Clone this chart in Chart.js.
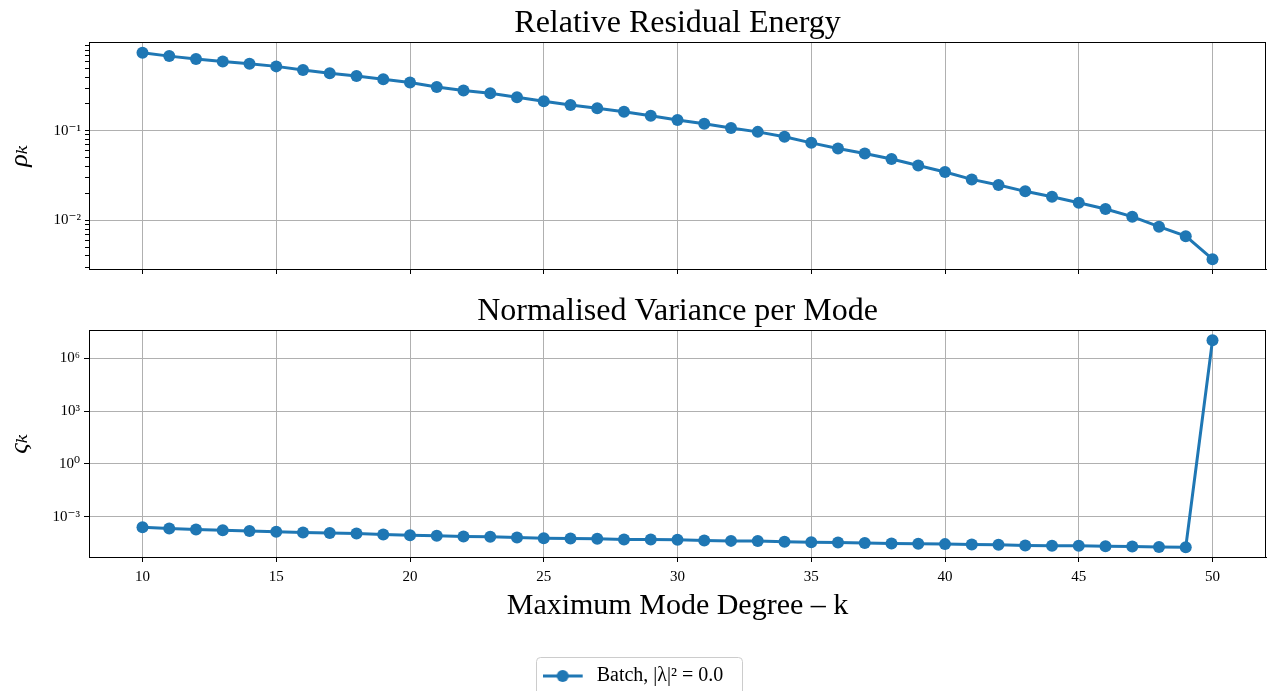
<!DOCTYPE html>
<html>
<head>
<meta charset="utf-8">
<script src="https://cdn.jsdelivr.net/npm/chart.js@4.4.0/dist/chart.umd.min.js"></script>
<style>
  html, body { margin: 0; padding: 0; background: #fff; overflow: hidden; }
  #top { position: absolute; left: 0; top: 0; width: 1282px; height: 290px; }
  #bottom { position: absolute; left: 0; top: 290px; width: 1282px; height: 401px; }
</style>
</head>
<body>
<div id="top"><canvas id="rhoChart"></canvas></div>
<div id="bottom"><canvas id="varChart"></canvas></div>
<script>
// maximum mode degree k
const kValues = [10, 11, 12, 13, 14, 15, 16, 17, 18, 19, 20, 21, 22, 23, 24, 25, 26, 27, 28, 29,
  30, 31, 32, 33, 34, 35, 36, 37, 38, 39, 40, 41, 42, 43, 44, 45, 46, 47, 48, 49, 50]

// relative residual energy rho_k
const rhoValues = [0.745, 0.685, 0.635, 0.598, 0.564, 0.526, 0.479, 0.44, 0.41, 0.377,
  0.347, 0.31, 0.282, 0.263, 0.238, 0.214, 0.195, 0.179, 0.164, 0.148,
  0.132, 0.12, 0.108, 0.0975, 0.0858, 0.0735, 0.0636, 0.056, 0.0484, 0.0411,
  0.0347, 0.0287, 0.0248, 0.0211, 0.0184, 0.0157, 0.0134, 0.011, 0.0085, 0.00666, 0.00368]

// normalised variance per mode varsigma_k
const varValues = [2.5e-4, 2.1e-4, 1.85e-4, 1.7e-4, 1.55e-4, 1.38e-4, 1.26e-4, 1.16e-4, 1.1e-4, 9.6e-5,
  8.9e-5, 8.1e-5, 7.4e-5, 7.1e-5, 6.5e-5, 6.0e-5, 5.7e-5, 5.5e-5, 5.0e-5, 5.0e-5,
  4.8e-5, 4.4e-5, 4.2e-5, 4.1e-5, 3.7e-5, 3.5e-5, 3.4e-5, 3.2e-5, 3.0e-5, 2.9e-5,
  2.75e-5, 2.6e-5, 2.5e-5, 2.3e-5, 2.2e-5, 2.2e-5, 2.1e-5, 2.0e-5, 1.9e-5, 1.85e-5, 1.05e7]

const xTicks = [10, 15, 20, 25, 30, 35, 40, 45, 50]
const rhoMajorTicks = [0.01, 0.1]
const rhoMajorLabels = ["10\u207B\u00B2", "10\u207B\u00B9"]
const rhoMinorTicks = [0.003, 0.004, 0.005, 0.006, 0.007, 0.008, 0.009,
  0.02, 0.03, 0.04, 0.05, 0.06, 0.07, 0.08, 0.09,
  0.2, 0.3, 0.4, 0.5, 0.6, 0.7, 0.8, 0.9]
const varTicks = [1e-3, 1, 1e3, 1e6]
const varTickLabels = ["10\u207B\u00B3", "10\u2070", "10\u00B3", "10\u2076"]

const seriesLabel = "Batch, |\u03BB|\u00B2 = 0.0"
const blue = "#1f77b4"
const serif = "'Liberation Serif', 'DejaVu Serif', serif"
const gridGrey = "#b0b0b0"

// black box round the plotting area, like matplotlib spines
const framePlugin = {
  id: "frame",
  afterDatasetsDraw(chart) {
    const { ctx, chartArea: a } = chart
    ctx.save()
    ctx.strokeStyle = "#000"
    ctx.lineWidth = 1
    ctx.strokeRect(Math.round(a.left) + 0.5, Math.round(a.top) + 0.5,
      Math.round(a.right - a.left) - 1, Math.round(a.bottom - a.top))
    ctx.restore()
  }
}

// rounded frame round the legend
const legendFramePlugin = {
  id: "legendFrame",
  afterDraw(chart) {
    const boxes = chart.legend && chart.legend.legendHitBoxes
    if (!boxes || !boxes.length) return
    const b = boxes[0]
    const ctx = chart.ctx
    ctx.save()
    ctx.strokeStyle = "#cccccc"
    ctx.lineWidth = 1
    ctx.beginPath()
    ctx.roundRect(Math.round(b.left) - 6.5, Math.round(b.top) - 8.5, Math.round(b.width) + 25, 60, 4)
    ctx.stroke()
    ctx.restore()
  }
}

// legend icon: line with a marker in the middle
const legendIcon = document.createElement("canvas")
legendIcon.width = 44
legendIcon.height = 14
{
  const c = legendIcon.getContext("2d")
  c.strokeStyle = blue
  c.lineWidth = 3
  c.beginPath()
  c.moveTo(0, 7)
  c.lineTo(40, 7)
  c.stroke()
  c.fillStyle = blue
  c.beginPath()
  c.arc(20, 7, 6, 0, Math.PI * 2)
  c.fill()
}

const points = (ys) => kValues.map((k, i) => ({ x: k, y: ys[i] }))

const dataset = (ys) => ({
  label: seriesLabel,
  data: points(ys),
  borderColor: blue,
  backgroundColor: blue,
  borderWidth: 3,
  pointRadius: 6,
  pointBorderWidth: 0,
  pointHoverRadius: 6,
  tension: 0
})

const tickFont = { family: serif, size: 15 }

const xScale = (showLabels, height, title) => ({
  type: "linear",
  min: 8,
  max: 52,
  afterBuildTicks: (s) => { s.ticks = xTicks.map((v) => ({ value: v })) },
  afterFit: (s) => { s.height = height },
  ticks: {
    color: "#000",
    font: tickFont,
    padding: 6,
    maxRotation: 0,
    autoSkip: false,
    callback: (v) => (showLabels ? String(v) : "")
  },
  grid: { color: gridGrey, lineWidth: 1, tickColor: "#000", tickLength: 5 },
  border: { display: true, color: "#000", width: 1 },
  title: title || { display: false }
})

const titleFont = { family: serif, size: 32, weight: "normal" }

// top panel: relative residual energy
new Chart(document.getElementById("rhoChart"), {
  type: "line",
  data: { datasets: [dataset(rhoValues)] },
  options: {
    responsive: true,
    maintainAspectRatio: false,
    animation: false,
    layout: { padding: { left: 0, right: 16, top: 0, bottom: 0 } },
    plugins: {
      legend: { display: false },
      tooltip: { enabled: false },
      title: {
        display: true,
        fullSize: false,
        text: "Relative Residual Energy",
        color: "#000",
        font: titleFont,
        padding: { top: 4, bottom: 0 }
      }
    },
    scales: {
      x: xScale(false, 21),
      y: {
        type: "logarithmic",
        min: 0.00286,
        max: 0.975,
        afterBuildTicks: (s) => {
          s.ticks = rhoMinorTicks.concat(rhoMajorTicks).sort((a, b) => a - b).map((v) => ({ value: v }))
        },
        afterFit: (s) => { s.width = 89 },
        ticks: {
          color: "#000",
          font: tickFont,
          padding: 4,
          autoSkip: false,
          callback: (v) => {
            const i = rhoMajorTicks.indexOf(v)
            return i >= 0 ? rhoMajorLabels[i] : ""
          }
        },
        grid: {
          lineWidth: 1,
          tickLength: 4,
          tickColor: "#000",
          color: (ctx) => (ctx.tick && rhoMajorTicks.includes(ctx.tick.value) ? gridGrey : "rgba(0,0,0,0)")
        },
        border: { display: true, color: "#000", width: 1 },
        title: {
          display: true,
          text: "\u03C1\u2096",
          color: "#000",
          font: { family: serif, size: 26, style: "italic" },
          padding: { top: 5, bottom: 0 }
        }
      }
    }
  },
  plugins: [framePlugin]
})

// bottom panel: normalised variance per mode
new Chart(document.getElementById("varChart"), {
  type: "line",
  data: { datasets: [dataset(varValues)] },
  options: {
    responsive: true,
    maintainAspectRatio: false,
    animation: false,
    layout: { padding: { left: 0, right: 16, top: 0, bottom: -5 } },
    plugins: {
      tooltip: { enabled: false },
      title: {
        display: true,
        fullSize: false,
        text: "Normalised Variance per Mode",
        color: "#000",
        font: titleFont,
        padding: { top: 2, bottom: 0 }
      },
      legend: {
        display: true,
        position: "bottom",
        labels: {
          color: "#000",
          font: { family: serif, size: 20 },
          usePointStyle: true,
          pointStyle: legendIcon,
          pointStyleWidth: 44,
          padding: 0
        }
      }
    },
    scales: {
      x: xScale(true, 109, {
        display: true,
        text: "Maximum Mode Degree \u2013 k",
        color: "#000",
        font: { family: serif, size: 30 },
        padding: { top: 0, bottom: 42 }
      }),
      y: {
        type: "logarithmic",
        min: 5.1e-6,
        max: 3.8e7,
        afterBuildTicks: (s) => { s.ticks = varTicks.map((v) => ({ value: v })) },
        afterFit: (s) => { s.width = 89 },
        ticks: {
          color: "#000",
          font: tickFont,
          padding: 4,
          autoSkip: false,
          callback: (v) => {
            const i = varTicks.indexOf(v)
            return i >= 0 ? varTickLabels[i] : ""
          }
        },
        grid: { color: gridGrey, lineWidth: 1, tickColor: "#000", tickLength: 5 },
        border: { display: true, color: "#000", width: 1 },
        title: {
          display: true,
          text: "\u03C2\u2096",
          color: "#000",
          font: { family: serif, size: 26, style: "italic" },
          padding: { top: 5, bottom: 0 }
        }
      }
    }
  },
  plugins: [framePlugin, legendFramePlugin]
})
</script>
</body>
</html>
